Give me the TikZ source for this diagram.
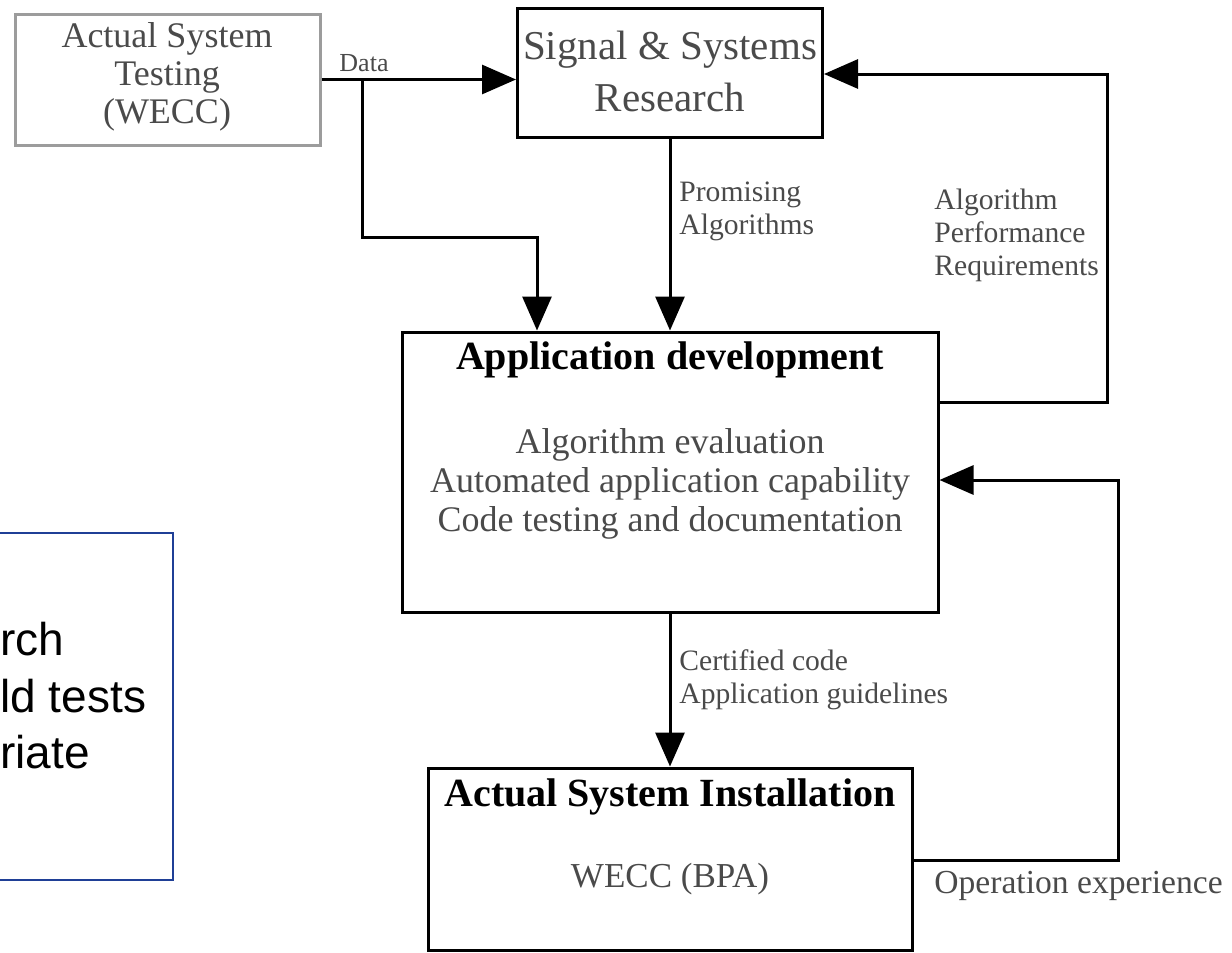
\documentclass[tikz,border=0pt]{standalone}
\usepackage{fontspec}
\setmainfont{Liberation Serif}
\newfontfamily\panelsans{Liberation Sans}
\usetikzlibrary{arrows.meta}
\definecolor{inkgray}{HTML}{4A4A4A}
\definecolor{boxgray}{HTML}{9C9C9C}
\definecolor{panelblue}{HTML}{1F3F96}
\begin{document}
\begin{tikzpicture}[x=0.5pt,y=-0.5pt,
  blockbox/.style={draw=black,line width=1.5pt,inner sep=0pt},
  wire/.style={line width=1.5pt},
  arr/.style={line width=1.5pt,-{Triangle[length=17pt,width=14.5pt]}},
  lbl/.style={text=inkgray,inner sep=0pt,align=left,font=\fontsize{14.8}{16.5}\selectfont},
  body/.style={text=inkgray,inner sep=0pt,align=center},
  head/.style={text=black,inner sep=0pt,align=center,font=\bfseries\fontsize{20}{22}\selectfont},
  paneltxt/.style={anchor=base west,inner sep=0pt,text=black,font=\panelsans\fontsize{23}{28}\selectfont}]
\useasboundingbox (0,0) rectangle (1232,953);
\clip (0,0) rectangle (1232,953);

% blocks
\node[blockbox,draw=boxgray,minimum width=152.5pt,minimum height=65.5pt] (testing) at (167.5,79.5) {};
\node[blockbox,minimum width=152.5pt,minimum height=64.5pt] (research) at (670,72.5) {};
\node[blockbox,minimum width=268pt,minimum height=140pt] (appdev) at (670,472) {};
\node[blockbox,minimum width=242pt,minimum height=91pt] (install) at (670,859) {};

% block texts
\node[body,font=\fontsize{18}{19}\selectfont] (testingtxt) at (167,77) {Actual System\\Testing\\(WECC)};
\node[body,font=\fontsize{20.5}{26}\selectfont] (researchtxt) at (670,71) {Signal \& Systems\\Research};
\node[head] (appdevhead) at (670,360) {Application development};
\node[body,font=\fontsize{18}{19.5}\selectfont] (appdevtxt) at (670,484) {Algorithm evaluation\\Automated application capability\\Code testing and documentation};
\node[head] (installhead) at (670,797) {Actual System Installation};
\node[body,font=\fontsize{17.5}{20}\selectfont] (installtxt) at (670,879) {WECC (BPA)};

% side panel
\node[draw=panelblue,line width=1pt,minimum width=91.5pt,minimum height=173.5pt,inner sep=0pt] (notes) at (81.5,706.5) {};
\node[paneltxt] (notes1) at (0,655) {rch};
\node[paneltxt] (notes2) at (0,712) {ld tests};
\node[paneltxt] (notes3) at (0,768) {riate};

% connector corners
\coordinate (split) at (362,80);
\coordinate (dcorner) at (537,237);
\coordinate (fbA) at (1107,402);
\coordinate (fbB) at (1107,74);
\coordinate (opA) at (1118,860);
\coordinate (opB) at (1118,480);

% connectors
\draw[arr] (testing.east) -- (testing.east -| research.west);
\draw[arr] (split) |- (dcorner) -- (dcorner |- appdev.north);
\draw[arr] (research.south) -- (appdev.north);
\draw[arr] (fbA -| appdev.east) -- (fbA) -- (fbB) -- (fbB -| research.east);
\draw[arr] (appdev.south) -- (install.north);
\draw[arr] (opA -| install.east) -- (opA) -- (opB) -- (opB -| appdev.east);

% connector labels
\node[lbl,font=\fontsize{13}{15}\selectfont] (datalbl) at (364,63) {Data};
\node[lbl,anchor=west] (promlbl) at (679,211) {Promising\\Algorithms};
\node[lbl,anchor=west] (reqlbl) at (934,235) {Algorithm\\Performance\\Requirements};
\node[lbl,anchor=west] (certlbl) at (679,680) {Certified code\\Application guidelines};
\node[lbl,anchor=west,font=\fontsize{16.8}{18}\selectfont] (oplbl) at (934,886) {Operation experience};
\end{tikzpicture}
\end{document}
